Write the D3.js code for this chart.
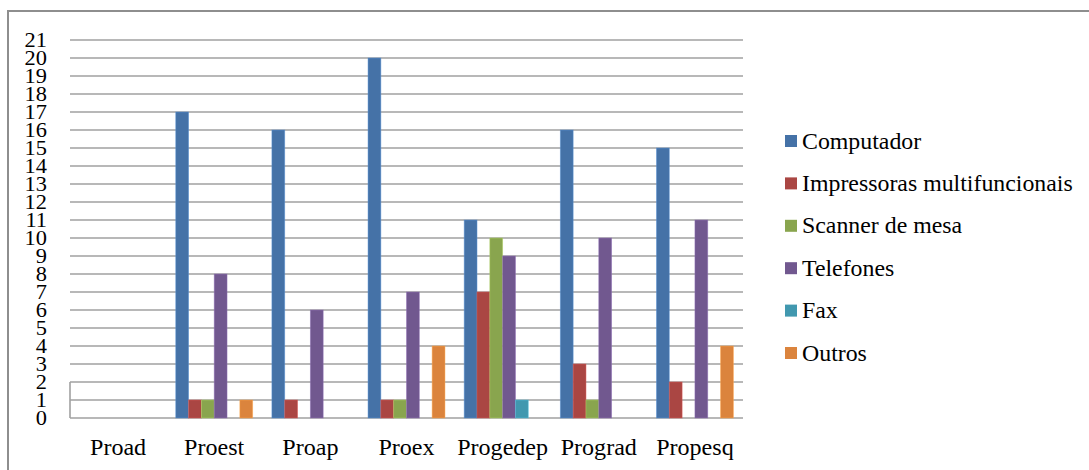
<!DOCTYPE html>
<html>
<head>
<meta charset="utf-8">
<script src="https://cdn.jsdelivr.net/npm/d3@7"></script>
<style>
  html, body { margin: 0; padding: 0; background: #fff; }
  svg { display: block; }
</style>
</head>
<body>
<svg id="chart" width="1089" height="470"></svg>
<script>
// Equipment counts per pró-reitoria
const categories = ["Proad", "Proest", "Proap", "Proex", "Progedep", "Prograd", "Propesq"];
const seriesNames = ["Computador", "Impressoras multifuncionais", "Scanner de mesa", "Telefones", "Fax", "Outros"];
const computador  = [0, 17, 16, 20, 11, 16, 15];
const impressoras = [0, 1, 1, 1, 7, 3, 2];
const scanner     = [0, 1, 0, 1, 10, 1, 0];
const telefones   = [0, 8, 6, 7, 9, 10, 11];
const fax         = [0, 0, 0, 0, 1, 0, 0];
const outros      = [0, 1, 0, 4, 0, 0, 4];
const yTicks = d3.range(0, 22);

const seriesValues = [computador, impressoras, scanner, telefones, fax, outros];
const colors = ["#4572A7", "#AA4643", "#89A54E", "#71588F", "#4198AF", "#DB843D"];
const SERIF = "'Liberation Serif', 'Times New Roman', 'DejaVu Serif', serif";

const svg = d3.select("#chart");

// Outer chart frame (top and left edges visible)
svg.append("path")
  .attr("d", "M8,470 L8,11 L1089,11")
  .attr("fill", "none")
  .attr("stroke", "#8e8e8e")
  .attr("stroke-width", 2);

const plot = { left: 70, right: 743, top: 40, bottom: 418 };

const x = d3.scaleBand().domain(categories).range([plot.left, plot.right]).paddingInner(0).paddingOuter(0);
const xs = d3.scaleBand().domain(seriesNames).range([0, x.bandwidth()]).paddingInner(0).paddingOuter(0.75);
const y = d3.scaleLinear().domain([0, 21]).range([plot.bottom, plot.top]);

// Horizontal gridlines
svg.append("g")
  .selectAll("line")
  .data(yTicks)
  .join("line")
  .attr("x1", plot.left)
  .attr("x2", plot.right)
  .attr("y1", d => y(d))
  .attr("y2", d => y(d))
  .attr("stroke", "#a0a0a0")
  .attr("stroke-width", 1.6);

// Short vertical axis stub at the bottom-left of the plot
svg.append("line")
  .attr("x1", plot.left)
  .attr("x2", plot.left)
  .attr("y1", y(0))
  .attr("y2", y(2))
  .attr("stroke", "#a0a0a0")
  .attr("stroke-width", 1.6);

// Y axis labels
const yAxis = svg.append("g")
  .attr("transform", `translate(47,0)`)
  .call(d3.axisLeft(y).tickValues(yTicks).tickSize(0).tickPadding(0).tickFormat(d3.format("d")));
yAxis.attr("font-family", null).attr("font-size", null);
yAxis.select(".domain").remove();
yAxis.selectAll("text")
  .style("font-family", SERIF)
  .style("font-size", "20px")
  .attr("fill", "#000")
  .attr("dy", "0.34em")
  .attr("transform", "scale(1.12,1)");

// Bars
const groups = svg.append("g")
  .selectAll("g")
  .data(categories)
  .join("g")
  .attr("transform", d => `translate(${x(d)},0)`);

groups.selectAll("rect")
  .data((c, i) => seriesNames.map((s, k) => ({ s, v: seriesValues[k][i], color: colors[k] })).filter(d => d.v > 0))
  .join("rect")
  .attr("x", d => xs(d.s))
  .attr("width", xs.bandwidth())
  .attr("y", d => y(d.v))
  .attr("height", d => y(0) - y(d.v))
  .attr("fill", d => d.color)
  .attr("stroke", d => d3.color(d.color).brighter(0.7))
  .attr("stroke-opacity", 0.6)
  .attr("stroke-width", 0.8);

// Category labels
svg.append("g")
  .selectAll("text")
  .data(categories)
  .join("text")
  .attr("transform", d => `translate(${x(d) + x.bandwidth() / 2},455) scale(1.07,1)`)
  .attr("text-anchor", "middle")
  .style("font-family", SERIF)
  .style("font-size", "22.5px")
  .attr("fill", "#000")
  .text(d => d);

// Legend
const legend = svg.append("g")
  .selectAll("g")
  .data(seriesNames)
  .join("g")
  .attr("transform", (d, i) => `translate(785,${141 + i * 42.4})`);

legend.append("rect")
  .attr("x", 0)
  .attr("y", -6)
  .attr("width", 12)
  .attr("height", 12)
  .attr("fill", (d, i) => colors[i]);

legend.append("text")
  .attr("transform", "translate(17,7.5) scale(1.06,1)")
  .style("font-family", SERIF)
  .style("font-size", "22.5px")
  .attr("fill", "#000")
  .text(d => d);
</script>
</body>
</html>
